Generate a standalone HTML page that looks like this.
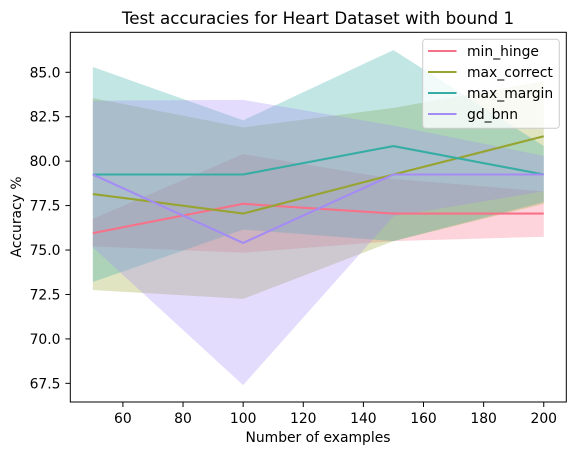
<!DOCTYPE html>
<html><head><meta charset="utf-8"><style>
body{margin:0;background:#fff;font-family:"DejaVu Sans","Liberation Sans",sans-serif;}
svg text{font-family:"DejaVu Sans","Liberation Sans",sans-serif;fill:#000;}
</style></head><body>
<svg id="chart" width="579" height="455" xmlns="http://www.w3.org/2000/svg">
<rect width="579" height="455" fill="#fff"/>
<g id="bands"></g><g id="lines"></g>
<rect x="70.3" y="32.3" width="496" height="369.7" fill="none" stroke="#000" stroke-width="1"/>
<g id="xticks"></g><g id="yticks"></g>
<text x="318" y="24" font-size="16.7" text-anchor="middle">Test accuracies for Heart Dataset with bound 1</text>
<text x="318" y="442" font-size="13.9" text-anchor="middle">Number of examples</text>
<text transform="translate(21,217) rotate(-90)" font-size="13.9" text-anchor="middle">Accuracy %</text>
<g id="legend"></g>
</svg>
<script>
const xs=[50,100,150,200];
const names=["min_hinge","max_correct","max_margin","gd_bnn"];
const colors=["#f77189","#97a431","#36ada4","#a48cf4"];
const meanHinge=[75.95,77.6,77.05,77.05];
const lowHinge=[75.2,74.85,75.5,75.75];
const highHinge=[76.75,80.4,79.0,78.3];
const meanCorrect=[78.15,77.05,79.25,81.4];
const lowCorrect=[72.75,72.25,75.5,77.6];
const highCorrect=[83.55,81.9,83.0,84.5];
const meanMargin=[79.25,79.25,80.85,79.25];
const lowMargin=[73.2,76.15,75.5,77.7];
const highMargin=[85.3,82.3,86.25,80.85];
const meanBnn=[79.25,75.4,79.25,79.25];
const lowBnn=[75.15,67.4,76.9,78.3];
const highBnn=[83.4,83.45,82.0,80.3];
const xTicks=[60,80,100,120,140,160,180,200];
const yTicks=[67.5,70.0,72.5,75.0,77.5,80.0,82.5,85.0];
const means=[meanHinge,meanCorrect,meanMargin,meanBnn];
const lows=[lowHinge,lowCorrect,lowMargin,lowBnn];
const highs=[highHinge,highCorrect,highMargin,highBnn];
const NS="http://www.w3.org/2000/svg";
const X=v=>70.3+(v-42.5)*(496/165);
const Y=v=>402-(v-66.45)*(369.7/(87.25-66.45));
function mk(t,a,p){const e=document.createElementNS(NS,t);for(const k in a)e.setAttribute(k,a[k]);p.appendChild(e);return e;}
const bands=document.getElementById('bands'),lines=document.getElementById('lines');
names.forEach((n,i)=>{
  let pts=xs.map((x,j)=>X(x)+','+Y(highs[i][j])).concat(xs.slice().reverse().map((x,j)=>X(x)+','+Y(lows[i][xs.length-1-j])));
  const b=mk('polygon',{points:pts.join(' '),fill:colors[i],'fill-opacity':0.3},bands);
  
  
});
names.forEach((n,i)=>{
  const l=mk('polyline',{points:xs.map((x,j)=>X(x)+','+Y(means[i][j])).join(' '),fill:'none',stroke:colors[i],'stroke-width':2.1},lines);
  
  
});
const xt=document.getElementById('xticks'),yt=document.getElementById('yticks');
xTicks.forEach(v=>{
  const l=mk('line',{x1:X(v),x2:X(v),y1:402,y2:407,stroke:'#000'},xt);
  
  
  const t=mk('text',{x:X(v),y:423,'font-size':13.9,'text-anchor':'middle'},xt);t.textContent=v;
  
  
});
yTicks.forEach(v=>{
  const l=mk('line',{x1:65.4,x2:70.3,y1:Y(v),y2:Y(v),stroke:'#000'},yt);
  
  
  const t=mk('text',{x:60.5,y:Y(v)+5,'font-size':13.9,'text-anchor':'end'},yt);t.textContent=v.toFixed(1);
  
  
});
const lg=document.getElementById('legend');
mk('rect',{x:422.7,y:39.3,width:136.6,height:89,rx:3,fill:'#fff','fill-opacity':0.8,stroke:'#ccc'},lg);
names.forEach((n,i)=>{
  const y=51+i*21;
  const l=mk('line',{x1:428,x2:456.5,y1:y,y2:y,stroke:colors[i],'stroke-width':2.1},lg);
  
  
  const t=mk('text',{x:467,y:y+5,'font-size':13.9},lg);t.textContent=n;
  
  
});
</script>
</body></html>
